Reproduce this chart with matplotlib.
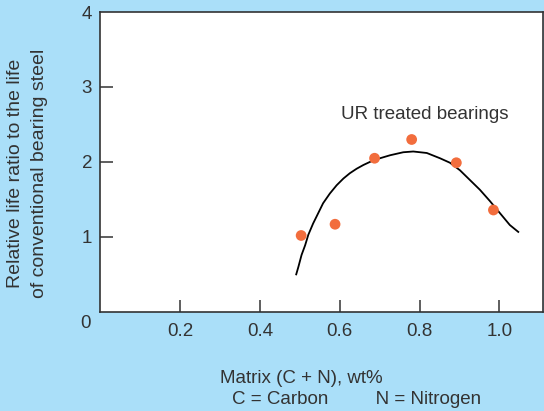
import numpy as np
import matplotlib
matplotlib.use("Agg")
import matplotlib.pyplot as plt

# measured bearings (matrix C+N wt%, relative life)
x_pts = [0.503, 0.588, 0.687, 0.780, 0.892, 0.985]
y_pts = [1.02, 1.17, 2.05, 2.30, 1.99, 1.36]

# fitted trend curve
x_fit = [0.490, 0.496, 0.504, 0.513, 0.521, 0.533, 0.546, 0.558, 0.575,
         0.592, 0.609, 0.625, 0.642, 0.659, 0.675, 0.688, 0.726, 0.759,
         0.784, 0.818, 0.851, 0.876, 0.901, 0.926, 0.951, 0.976, 1.001,
         1.026, 1.049]
y_fit = [0.49, 0.60, 0.76, 0.89, 1.03, 1.18, 1.32, 1.45, 1.58,
         1.69, 1.78, 1.85, 1.91, 1.96, 2.00, 2.03, 2.09, 2.13,
         2.14, 2.12, 2.05, 1.99, 1.89, 1.76, 1.63, 1.48, 1.32,
         1.16, 1.06]

x_ticks = [0.2, 0.4, 0.6, 0.8, 1.0]
x_ticklabels = ["0.2", "0.4", "0.6", "0.8", "1.0"]
y_ticks = [1, 2, 3, 4]
y_ticklabels = ["1", "2", "3", "4"]

bg = "#aadff9"
txt = "#333333"
orange = "#f26d3d"
fs = 13.5

plt.rcParams["font.family"] = ["Liberation Sans", "DejaVu Sans"]

fig = plt.figure(figsize=(5.44, 4.11), dpi=100, facecolor=bg)
ax = fig.add_axes([0.1847, 0.2409, 0.8133, 0.7299])
ax.set_facecolor("white")

ax.plot(x_fit, y_fit, color="black", lw=1.3, zorder=2,
        solid_joinstyle="round", solid_capstyle="butt")
ax.scatter(x_pts, y_pts, s=60, color=orange, edgecolors="none", zorder=3)

ax.set_xlim(0, 1.109)
ax.set_ylim(0, 4)

ax.set_xticks(x_ticks)
ax.set_xticklabels(x_ticklabels)
ax.set_yticks(y_ticks)
ax.set_yticklabels(y_ticklabels)
ax.tick_params(direction="in", length=9, width=1.1, color=txt,
               labelsize=fs, labelcolor=txt, pad=8)
ax.tick_params(axis="y", pad=6)
ax.yaxis.get_major_ticks()[-1].tick1line.set_visible(False)

for s in ax.spines.values():
    s.set_color(txt)
    s.set_linewidth(1.2)

# shared origin label
ax.annotate("0", xy=(0, 0), xycoords="data", xytext=(-11, -8),
            textcoords="offset points", ha="center", va="center",
            fontsize=fs, color=txt, annotation_clip=False)

ax.text(0.813, 2.63, "UR treated bearings", ha="center", va="center",
        fontsize=fs, color=txt)

fig.text(0.0285, 0.578, "Relative life ratio to the life", rotation=90,
         ha="center", va="center", fontsize=14, color=txt)
fig.text(0.0725, 0.578, "of conventional bearing steel", rotation=90,
         ha="center", va="center", fontsize=14, color=txt)

fig.text(0.553, 0.080, "Matrix (C + N), wt%", ha="center", va="center",
         fontsize=fs, color=txt)
fig.text(0.655, 0.027, "C = Carbon         N = Nitrogen", ha="center",
         va="center", fontsize=fs, color=txt)

fig.savefig("out.png", dpi=100, facecolor=bg)
